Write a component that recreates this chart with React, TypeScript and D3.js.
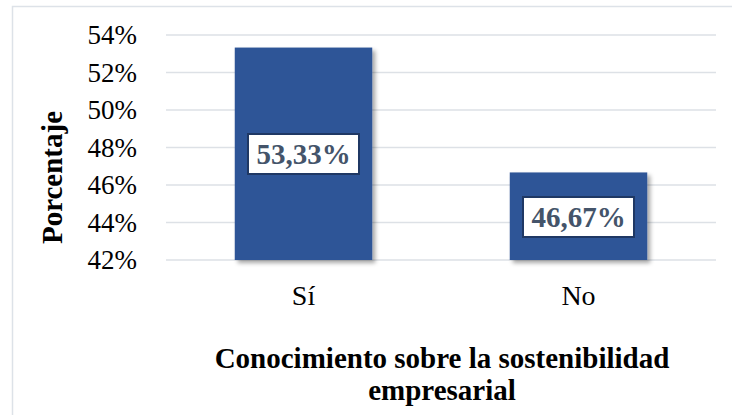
import React from "react";
import * as d3 from "d3";

const categories = ["Sí", "No"];
const values = [53.33, 46.67];
const valueLabels = ["53,33%", "46,67%"];
const yTicks = [42, 44, 46, 48, 50, 52, 54];

const W = 732, H = 415;
const plot = { left: 166, right: 716, top: 35, bottom: 260 };
const font = "'Liberation Serif', 'Times New Roman', serif";

export default function App() {
  const x = d3.scaleBand().domain(categories).range([plot.left, plot.right]).paddingInner(0.5).paddingOuter(0.25);
  const y = d3.scaleLinear().domain([42, 54]).range([plot.bottom, plot.top]);
  return (
    <svg width={W} height={H} style={{ position: "absolute", left: 0, top: 0 }}>
      <defs>
        <filter id="sh" x="-10%" y="-10%" width="130%" height="130%">
          <feDropShadow dx="3" dy="3" stdDeviation="2" floodColor="#000" floodOpacity="0.35" />
        </filter>
      </defs>
      <rect x={0} y={0} width={W} height={H} fill="#fff" />
      <rect x={12.5} y={6.5} width={W} height={H} fill="#fff" stroke="#dde2e8" strokeWidth={1.5} />
      {yTicks.map((t) => (
        <g key={t}>
          <line x1={plot.left} x2={plot.right} y1={y(t)} y2={y(t)} stroke="#dde1e6" strokeWidth={1.5} />
          <text x={137} y={y(t)} dy="0.35em" textAnchor="end" fontFamily={font} fontSize={27} fill="#000">{t}%</text>
        </g>
      ))}
      {categories.map((c, i) => {
        const bx = x(c)!;
        const bw = x.bandwidth();
        const top = y(values[i]);
        return (
          <g key={c}>
            <rect x={bx} y={top} width={bw} height={y(42) - top} fill="#2F5597" filter="url(#sh)" />
            <text x={bx + bw / 2} y={305} textAnchor="middle" fontFamily={font} fontSize={28} fill="#000">{c}</text>
          </g>
        );
      })}
      {categories.map((c, i) => {
        const cx = x(c)! + x.bandwidth() / 2;
        const cy = i === 0 ? 154 : 217;
        return (
          <g key={"l" + c}>
            <rect x={cx - 55.5} y={cy - 20} width={111} height={40} fill="#fff" stroke="#1F3864" strokeWidth={2} />
            <text x={cx} y={cy} dy="0.35em" textAnchor="middle" fontFamily={font} fontSize={29} fontWeight="bold" fill="#44546A">{valueLabels[i]}</text>
          </g>
        );
      })}
      <text transform={`translate(52,177.5) rotate(-90)`} dy="0.35em" textAnchor="middle" fontFamily={font} fontSize={29} fontWeight="bold" fill="#000">Porcentaje</text>
      <text x={442} y={368} textAnchor="middle" fontFamily={font} fontSize={29} fontWeight="bold" fill="#000">Conocimiento sobre la sostenibilidad</text>
      <text x={442} y={400} textAnchor="middle" fontFamily={font} fontSize={29} fontWeight="bold" fill="#000">empresarial</text>
    </svg>
  );
}
